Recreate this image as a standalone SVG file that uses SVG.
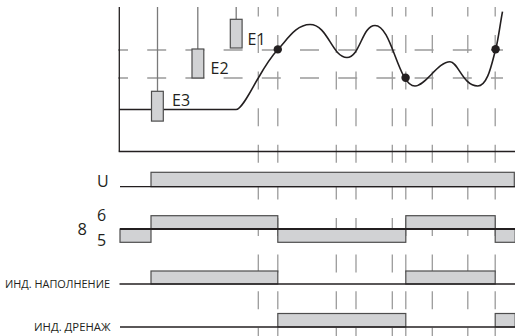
<svg xmlns="http://www.w3.org/2000/svg" width="515" height="336" viewBox="0 0 515 336">
<style>
.grid{stroke:#9b9b9b;stroke-width:1.3;fill:none}
.vd{stroke-dasharray:18 18.6;stroke-dashoffset:8.6}
.hd{stroke-dasharray:19 19.2;stroke-dashoffset:9}
.stem{stroke:#7a7a7a;stroke-width:1.3}
.box{fill:#d1d2d4;stroke:#4d4d4d;stroke-width:1.2}
.ax{stroke:#231f20;stroke-width:1.3;fill:none}
.thick{stroke:#231f20;stroke-width:2;fill:none}
.curve{stroke:#231f20;stroke-width:1.6;fill:none}
.dot{fill:#231f20}
.lbl{font-family:"Open Sans","Noto Sans","DejaVu Sans",sans-serif;fill:#231f20}
</style>
<rect width="515" height="336" fill="#fff"/>
<g id="grid">
<line class="grid hd" x1="118" y1="50" x2="503" y2="50"/>
<line class="grid hd" x1="118" y1="78" x2="503" y2="78"/>
<g class="grid vd">
<line x1="258.3" y1="7" x2="258.3" y2="336"/>
<line x1="277.8" y1="7" x2="277.8" y2="336"/>
<line x1="336.3" y1="7" x2="336.3" y2="336"/>
<line x1="356" y1="7" x2="356" y2="336"/>
<line x1="392.3" y1="7" x2="392.3" y2="336"/>
<line x1="405.8" y1="7" x2="405.8" y2="336"/>
<line x1="432.3" y1="7" x2="432.3" y2="336"/>
<line x1="467.8" y1="7" x2="467.8" y2="336"/>
<line x1="495.2" y1="7" x2="495.2" y2="336"/>
</g>
</g>
<g id="axes">
<line class="ax" x1="119.3" y1="7" x2="119.3" y2="151.5"/>
<line class="ax" x1="118.7" y1="151.5" x2="515" y2="151.5"/>
</g>
<g id="E3">
<line class="stem" x1="157.5" y1="7" x2="157.5" y2="91"/>
<path class="curve" d="M119.3,109.5 H236 C242,109.5 252,88 258.3,78 C264,68 270,58 277.8,49.5 C287,40 296,24.5 310,24.5 C328,24.5 332,57.5 347,57.5 C360,57.5 362,25.5 375,25.5 C392,25.5 398,86 415,86 C425.5,86 438,61.7 450,61.7 C458,61.7 463,86 477.7,86 C488,86 492,62 495.7,49.3 C498,41 500,25 502.5,11.7"/>
<rect class="box" x="151.5" y="91.3" width="11.8" height="29.8"/>
<text class="lbl" x="172" y="106" font-size="16">E3</text>
</g>
<g id="E2">
<line class="stem" x1="197.8" y1="7" x2="197.8" y2="49"/>
<rect class="box" x="192" y="49" width="11.8" height="29"/>
<text class="lbl" x="210.5" y="74" font-size="16">E2</text>
</g>
<g id="E1">
<line class="stem" x1="236.2" y1="7" x2="236.2" y2="19"/>
<rect class="box" x="230.3" y="19.3" width="11.8" height="28.7"/>
<text class="lbl" x="247.5" y="44.5" font-size="16">E1</text>
</g>
<g id="points">
<circle class="dot" cx="277.8" cy="49.4" r="4.2"/>
<circle class="dot" cx="405.6" cy="77.7" r="4.2"/>
<circle class="dot" cx="495.6" cy="49.3" r="4.2"/>
</g>
<g id="signal-U">
<rect class="box" x="151" y="172.3" width="363.3" height="14.4"/>
<line class="ax" x1="120" y1="186.7" x2="515" y2="186.7"/>
<text class="lbl" x="97" y="187" font-size="16">U</text>
</g>
<g id="signal-8">
<rect class="box" x="120" y="229" width="31" height="13.3"/>
<rect class="box" x="151" y="215.7" width="126.8" height="13.3"/>
<rect class="box" x="277.8" y="229" width="128" height="13.3"/>
<rect class="box" x="405.8" y="215.7" width="89.4" height="13.3"/>
<rect class="box" x="495.2" y="229" width="20" height="13.3"/>
<line class="thick" x1="120" y1="229" x2="515" y2="229"/>
<text class="lbl" x="77.5" y="235.2" font-size="16.5">8</text>
<text class="lbl" x="97" y="221.3" font-size="16">6</text>
<text class="lbl" x="97" y="246.4" font-size="16">5</text>
</g>
<g id="signal-fill">
<rect class="box" x="151" y="271" width="126.8" height="13"/>
<rect class="box" x="405.8" y="271" width="89.4" height="13"/>
<line class="ax" x1="119.5" y1="284" x2="515" y2="284"/>
<text class="lbl" x="5" y="288" font-size="10.5" textLength="105" lengthAdjust="spacingAndGlyphs">ИНД. НАПОЛНЕНИЕ</text>
</g>
<g id="signal-drain">
<rect class="box" x="277.8" y="313.5" width="128" height="13.5"/>
<rect class="box" x="495.2" y="313.5" width="20" height="13.5"/>
<line class="ax" x1="120" y1="327" x2="515" y2="327"/>
<text class="lbl" x="34" y="331" font-size="10.5" textLength="76.5" lengthAdjust="spacingAndGlyphs">ИНД. ДРЕНАЖ</text>
</g>
</svg>
